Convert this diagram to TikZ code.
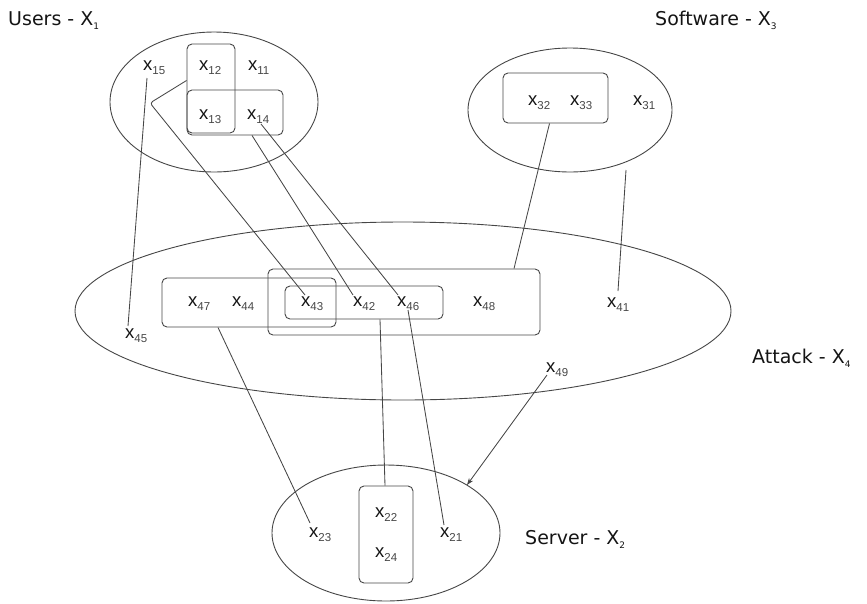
\documentclass[tikz,border=0pt]{standalone}
\usepackage{fontspec}
\setmainfont{Liberation Sans}
\newfontfamily\ttlfont{DejaVu Sans}
\usetikzlibrary{shapes.geometric,arrows.meta,calc}
\definecolor{linec}{RGB}{70,70,70}
\definecolor{txtc}{RGB}{20,20,20}
\definecolor{subc}{RGB}{70,70,70}
\newcommand{\xl}[1]{x\raisebox{-4pt}{\color{subc}\fontsize{11.5}{11.5}\selectfont #1}}
\newcommand{\ttl}[2]{{\ttlfont\fontsize{19}{19}\selectfont #1 - X\raisebox{-4pt}{\fontsize{9}{9}\selectfont #2}}}
\begin{document}
\begin{tikzpicture}[x=1pt,y=-1pt,
  grp/.style={ellipse,draw=linec,line width=0.9pt,inner sep=0pt},
  bx/.style={rectangle,rounded corners=5pt,draw=linec,line width=0.9pt,inner sep=0pt},
  lbl/.style={inner sep=0pt,anchor=base west,text=txtc,font=\fontsize{18.5}{18.5}\selectfont},
  ttln/.style={inner sep=0pt,anchor=base west,text=txtc},
  conn/.style={draw=linec,line width=0.85pt}]
\useasboundingbox (0,0) rectangle (867,603);
% group ellipses
\node[grp,minimum width=208,minimum height=140] (users) at (214,102) {};
\node[grp,minimum width=204,minimum height=124] (software) at (570,110) {};
\node[grp,minimum width=656,minimum height=178] (attack) at (403,311) {};
\node[grp,minimum width=228,minimum height=136] (server) at (386,533) {};
% boxes
\node[bx,minimum width=48,minimum height=89] (b12) at (211,88.5) {};
\node[bx,minimum width=96,minimum height=45] (b14) at (235,112.5) {};
\node[bx,minimum width=105,minimum height=50] (b32) at (555.5,98) {};
\node[bx,minimum width=174,minimum height=49] (bA) at (249,302.5) {};
\node[bx,minimum width=272,minimum height=66] (bB) at (404,302) {};
\node[bx,minimum width=158,minimum height=33] (bC) at (364,302.5) {};
\node[bx,minimum width=54,minimum height=97] (b22) at (386,534.5) {};
% titles
\node[ttln] (tU) at (8,25) {\ttl{Users}{1}};
\node[ttln] (tS) at (655,25) {\ttl{Software}{3}};
\node[ttln] (tA) at (752,363) {\ttl{Attack}{4}};
\node[ttln] (tV) at (525,544) {\ttl{Server}{2}};
% labels
\node[lbl] (x15) at (143,70) {\xl{15}};
\node[lbl] (x12) at (199,70) {\xl{12}};
\node[lbl] (x11) at (248,70) {\xl{11}};
\node[lbl] (x13) at (199,119) {\xl{13}};
\node[lbl] (x14) at (247,119) {\xl{14}};
\node[lbl] (x32) at (528,105) {\xl{32}};
\node[lbl] (x33) at (570,105) {\xl{33}};
\node[lbl] (x31) at (633,105) {\xl{31}};
\node[lbl] (x47) at (188,306) {\xl{47}};
\node[lbl] (x44) at (232,306) {\xl{44}};
\node[lbl] (x43) at (301,306) {\xl{43}};
\node[lbl] (x42) at (353,306) {\xl{42}};
\node[lbl] (x46) at (397,306) {\xl{46}};
\node[lbl] (x48) at (473,306) {\xl{48}};
\node[lbl] (x45) at (125,338) {\xl{45}};
\node[lbl] (x41) at (607,307) {\xl{41}};
\node[lbl] (x49) at (546,372) {\xl{49}};
\node[lbl] (x23) at (309,537) {\xl{23}};
\node[lbl] (x21) at (440,537) {\xl{21}};
\node[lbl] (x22) at (375,517) {\xl{22}};
\node[lbl] (x24) at (375,557) {\xl{24}};
% free coordinates
\coordinate (c1) at (150,103);
\coordinate (s41) at (626,170);
\coordinate (aS) at (467,485);
% connectors
\draw[conn,rounded corners=3pt] ($(b12.west)+(0,-8)$) -- (c1) -- ($(x43.base west)+(4,-11)$);
\draw[conn] ($(b14.south)+(17,0)$) -- ($(x42.base west)+(0,-11)$);
\draw[conn] ($(x14.base west)+(14,5)$) -- ($(x46.base west)+(1,-11)$);
\draw[conn] ($(x15.base west)+(4,8)$) -- ($(x45.base west)+(3,-12)$);
\draw[conn] ($(b32.south)+(-6,0)$) -- ($(bB.north)+(110,0)$);
\draw[conn] (s41) -- ($(x41.base west)+(11,-16)$);
\draw[conn] ($(bA.south)+(-31,0)$) -- ($(x23.base west)+(1,-14)$);
\draw[conn] ($(bC.south)+(16,0)$) -- ($(b22.north)+(-1,0)$);
\draw[conn] ($(x46.base west)+(11,4)$) -- ($(x21.base west)+(4,-12)$);
\draw[conn,-{Stealth[length=7pt,width=5pt]}] ($(x49.base west)+(1,3)$) -- (aS);
\end{tikzpicture}
\end{document}
